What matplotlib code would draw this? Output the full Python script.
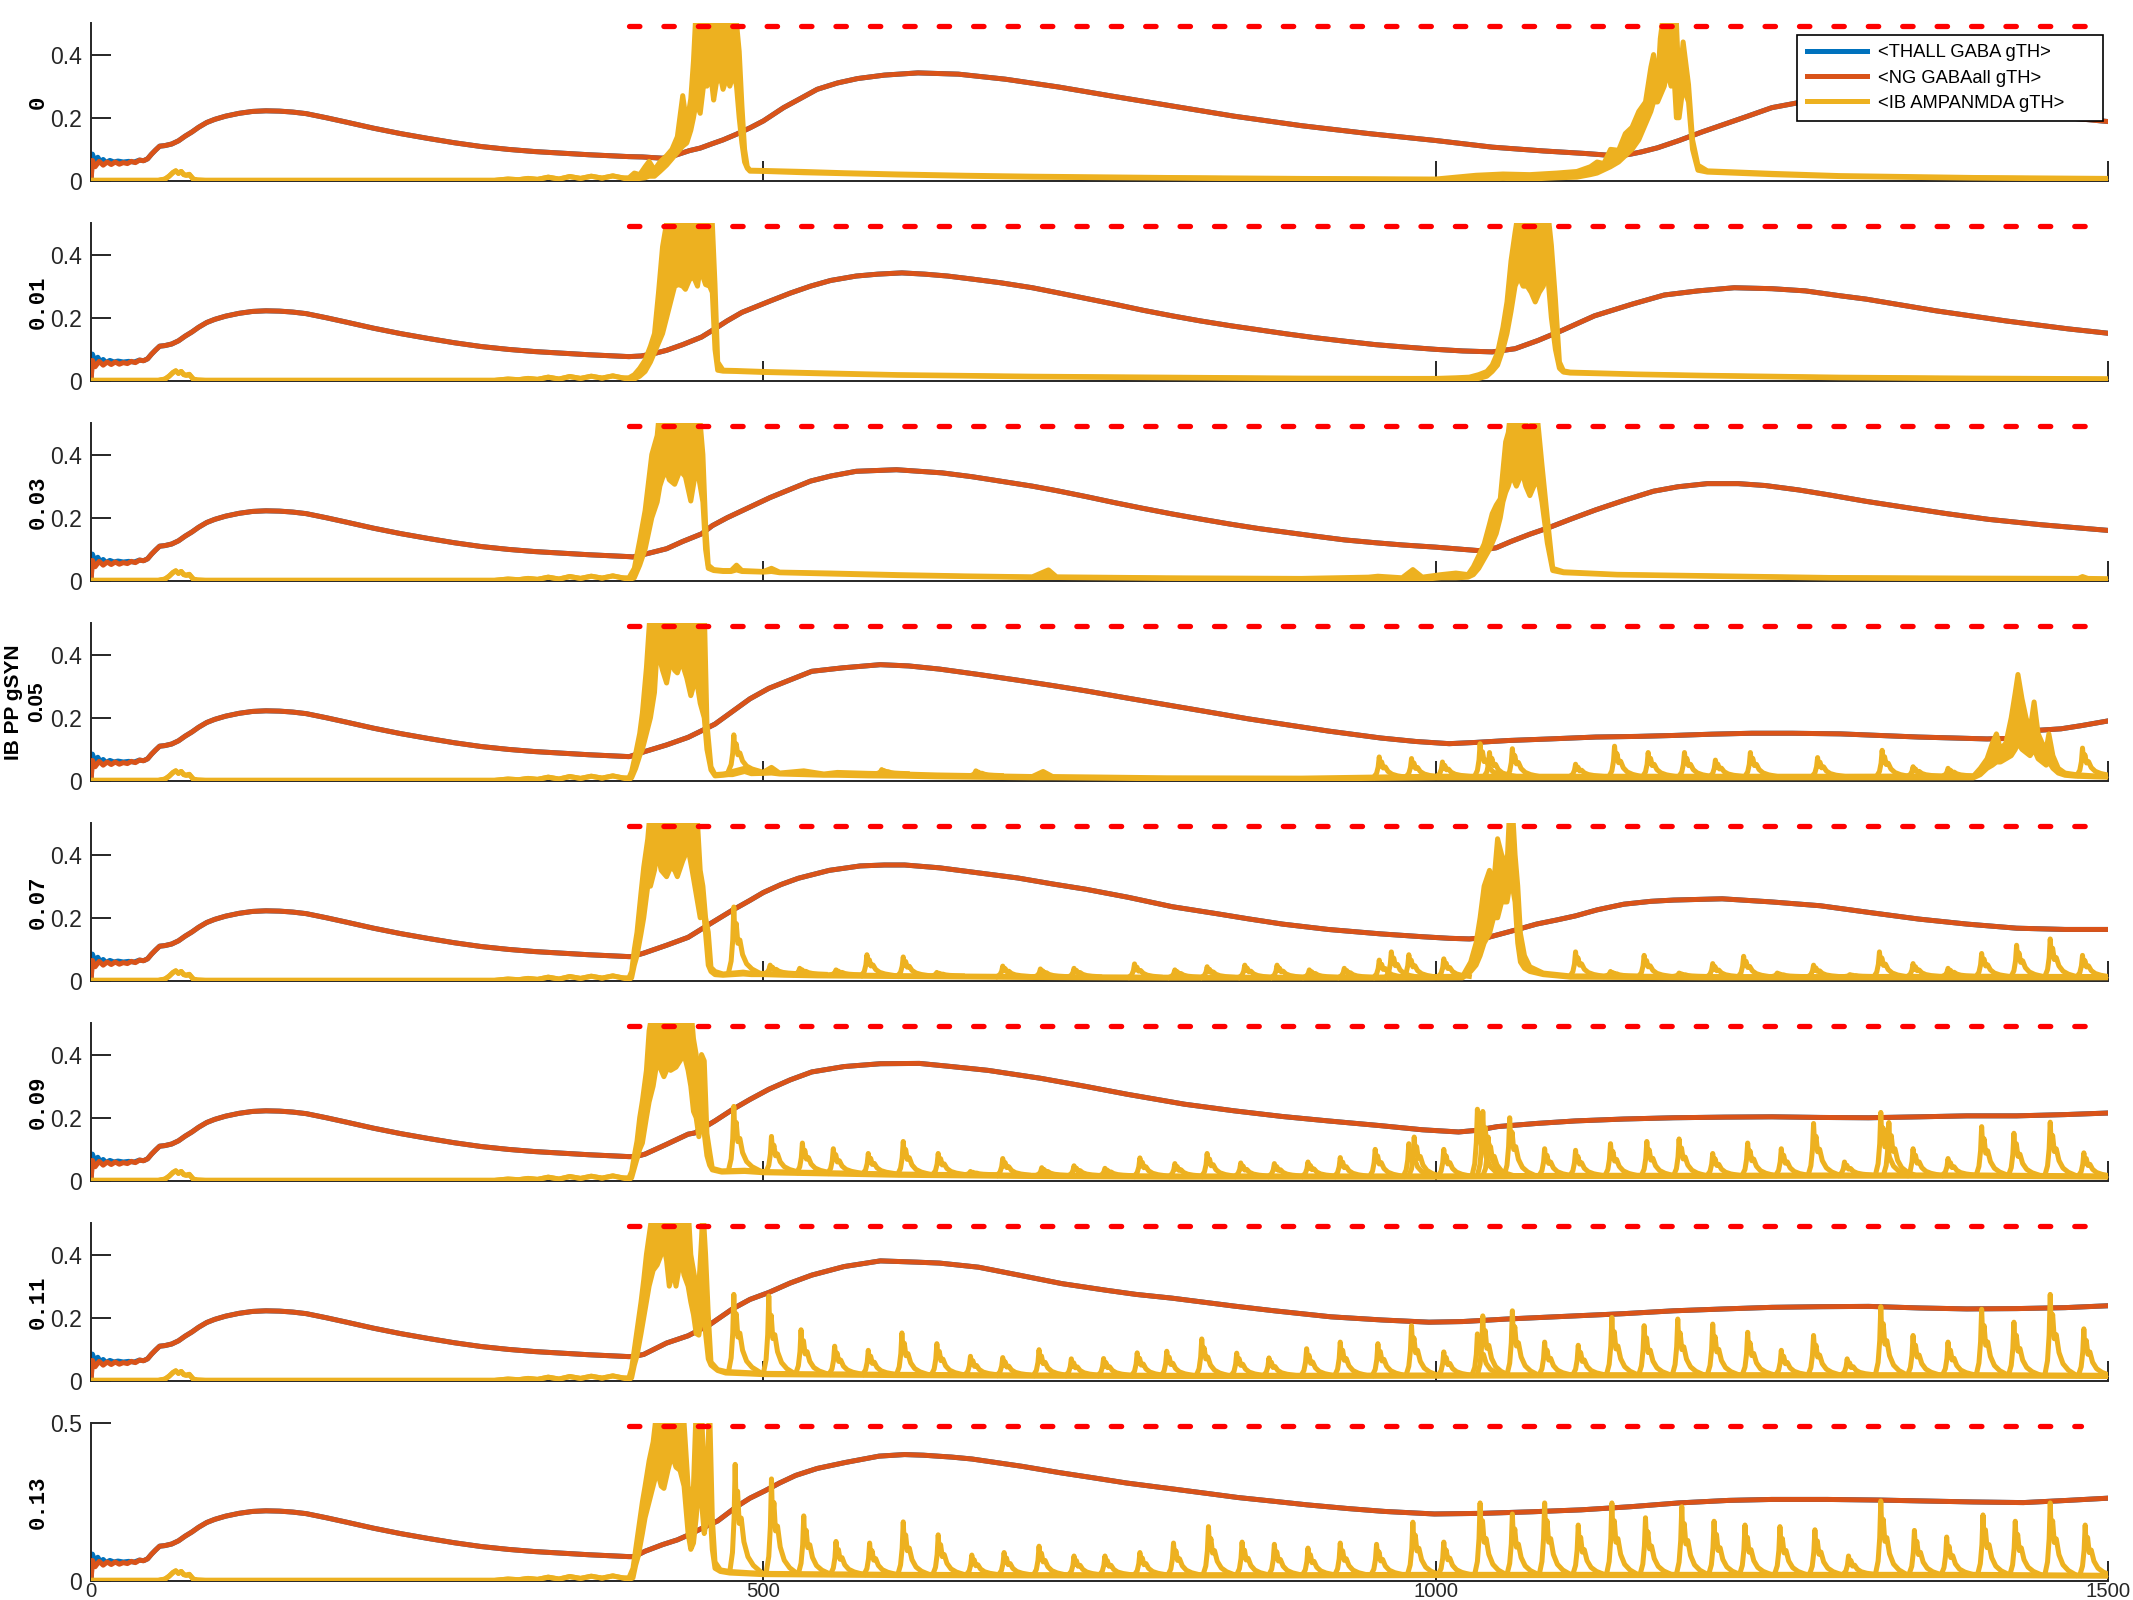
import numpy as np
import matplotlib
matplotlib.use("Agg")
import matplotlib.pyplot as plt

# ---------------- data ----------------
panel_labels = ["0", "0.01", "0.03", "0.05", "0.07", "0.09", "0.11", "0.13"]
series_names = ["<THALL GABA gTH>", "<NG GABAall gTH>", "<IB AMPANMDA gTH>"]
x_ticks = [0, 500, 1000, 1500]
threshold_level = 0.49
threshold_start = 400
threshold_end = [1500, 1500, 1500, 1500, 1500, 1500, 1500, 1480]

# shared first 400 ms (identical in all panels)
orange_early = [(0, 0.0), (1, 0.065), (3, 0.045), (6, 0.062), (9, 0.05), (12, 0.06), (15, 0.052),
                (18, 0.06), (21, 0.053), (24, 0.058), (27, 0.055), (30, 0.062), (33, 0.058),
                (36, 0.066), (39, 0.064), (42, 0.07), (45, 0.085), (48, 0.098), (51, 0.11),
                (55, 0.112), (60, 0.117), (65, 0.127), (70, 0.142), (75, 0.155), (80, 0.17),
                (86, 0.185), (92, 0.195), (100, 0.205), (110, 0.214), (120, 0.22), (130, 0.222),
                (140, 0.221), (150, 0.218), (160, 0.213), (175, 0.2), (190, 0.186), (210, 0.167),
                (230, 0.15), (250, 0.135), (270, 0.121), (290, 0.109), (310, 0.1), (330, 0.093),
                (350, 0.088), (370, 0.083), (390, 0.079), (400, 0.077)]
blue_early = [(0, 0.0), (1, 0.085), (3, 0.06), (5, 0.075), (7, 0.06), (9, 0.068), (11, 0.058),
              (14, 0.065), (17, 0.06), (20, 0.063), (24, 0.06), (28, 0.062), (32, 0.06),
              (36, 0.066), (39, 0.064)]
yellow_early = [(0, 0.002), (50, 0.002), (55, 0.006), (58, 0.015), (61, 0.027), (63, 0.032),
                (65, 0.024), (67, 0.03), (69, 0.02), (71, 0.018), (73, 0.021), (76, 0.006),
                (79, 0.003), (85, 0.002), (300, 0.002), (310, 0.006), (318, 0.004), (325, 0.008),
                (332, 0.005), (340, 0.012), (348, 0.006), (356, 0.014), (364, 0.008), (372, 0.015),
                (380, 0.009), (388, 0.016), (395, 0.01)]

# NG GABAall (orange) after 400 ms, per panel
orange_p1 = [(410, 0.076), (425, 0.072), (435, 0.082), (445, 0.096), (453, 0.104), (462, 0.118),
             (470, 0.13), (480, 0.148), (490, 0.168), (500, 0.19), (515, 0.232), (528, 0.262),
             (540, 0.29), (555, 0.31), (570, 0.324), (590, 0.335), (615, 0.342), (645, 0.338),
             (680, 0.322), (720, 0.297), (760, 0.268), (800, 0.24), (850, 0.205), (900, 0.175),
             (950, 0.15), (1000, 0.128), (1042, 0.107), (1080, 0.095), (1111, 0.087), (1136, 0.079),
             (1145, 0.085), (1153, 0.092), (1165, 0.105), (1181, 0.128), (1198, 0.155), (1215, 0.18),
             (1232, 0.205), (1250, 0.232), (1270, 0.248), (1300, 0.258), (1330, 0.262), (1360, 0.255),
             (1400, 0.238), (1440, 0.215), (1470, 0.2), (1500, 0.188)]
orange_p2 = [(409, 0.079), (418, 0.086), (428, 0.097), (440, 0.115), (454, 0.139), (462, 0.16),
             (473, 0.19), (484, 0.217), (505, 0.253), (520, 0.278), (535, 0.3), (550, 0.318),
             (569, 0.332), (585, 0.338), (603, 0.342), (620, 0.338), (637, 0.332), (656, 0.322),
             (676, 0.311), (700, 0.295), (719, 0.279), (740, 0.261), (761, 0.243), (782, 0.224),
             (804, 0.206), (825, 0.19), (847, 0.175), (868, 0.162), (889, 0.149), (910, 0.137),
             (932, 0.126), (955, 0.115), (975, 0.108), (1000, 0.1), (1020, 0.095), (1042, 0.092),
             (1059, 0.102), (1076, 0.128), (1094, 0.16), (1118, 0.206), (1146, 0.243), (1170, 0.272),
             (1195, 0.285), (1222, 0.295), (1250, 0.292), (1275, 0.285), (1300, 0.27), (1320, 0.259),
             (1372, 0.222), (1424, 0.19), (1470, 0.165), (1500, 0.151)]
orange_p3 = [(403, 0.076), (415, 0.088), (428, 0.102), (440, 0.125), (454, 0.149), (462, 0.175),
             (473, 0.2), (484, 0.222), (505, 0.264), (520, 0.29), (535, 0.316), (550, 0.332),
             (569, 0.347), (599, 0.352), (633, 0.342), (655, 0.33), (676, 0.316), (700, 0.3),
             (719, 0.285), (740, 0.267), (761, 0.248), (782, 0.23), (804, 0.212), (825, 0.196),
             (847, 0.18), (868, 0.166), (889, 0.154), (910, 0.142), (932, 0.13), (955, 0.121),
             (975, 0.114), (1000, 0.107), (1020, 0.1), (1032, 0.096), (1045, 0.105), (1056, 0.125),
             (1070, 0.148), (1083, 0.167), (1100, 0.195), (1119, 0.225), (1140, 0.255), (1162, 0.284),
             (1180, 0.298), (1202, 0.308), (1225, 0.308), (1245, 0.302), (1270, 0.288), (1293, 0.272),
             (1320, 0.252), (1352, 0.231), (1380, 0.213), (1411, 0.195), (1450, 0.178), (1500, 0.16)]
orange_p4 = [(401, 0.078), (411, 0.092), (428, 0.114), (444, 0.138), (457, 0.165), (464, 0.18),
             (477, 0.22), (490, 0.26), (504, 0.293), (520, 0.32), (536, 0.347), (559, 0.358),
             (587, 0.368), (608, 0.364), (631, 0.354), (660, 0.337), (689, 0.319), (715, 0.302),
             (740, 0.285), (771, 0.262), (804, 0.238), (837, 0.214), (860, 0.197), (886, 0.18),
             (920, 0.158), (959, 0.136), (985, 0.125), (1010, 0.118), (1030, 0.122), (1054, 0.128),
             (1085, 0.133), (1119, 0.139), (1150, 0.141), (1177, 0.144), (1205, 0.148), (1235, 0.151),
             (1265, 0.151), (1301, 0.149), (1330, 0.144), (1359, 0.139), (1385, 0.136), (1410, 0.133),
             (1430, 0.135), (1447, 0.16), (1465, 0.165), (1480, 0.175), (1500, 0.19)]
orange_p5 = [(402, 0.077), (411, 0.088), (428, 0.113), (444, 0.138), (460, 0.18), (477, 0.224),
             (490, 0.255), (500, 0.28), (513, 0.305), (526, 0.325), (549, 0.35), (572, 0.364),
             (590, 0.367), (605, 0.367), (631, 0.358), (660, 0.342), (689, 0.326), (715, 0.307),
             (740, 0.29), (771, 0.265), (804, 0.235), (837, 0.213), (860, 0.197), (886, 0.18),
             (920, 0.163), (959, 0.149), (990, 0.14), (1010, 0.135), (1025, 0.133), (1039, 0.138),
             (1060, 0.162), (1075, 0.18), (1090, 0.193), (1104, 0.206), (1120, 0.225), (1140, 0.243),
             (1160, 0.252), (1177, 0.256), (1213, 0.26), (1250, 0.25), (1286, 0.238), (1322, 0.217),
             (1359, 0.196), (1395, 0.18), (1432, 0.167), (1468, 0.163), (1500, 0.163)]
orange_p6 = [(405, 0.077), (412, 0.085), (428, 0.116), (444, 0.148), (449, 0.152), (464, 0.19),
             (477, 0.226), (490, 0.258), (504, 0.29), (520, 0.32), (536, 0.345), (560, 0.362),
             (587, 0.371), (616, 0.372), (640, 0.362), (667, 0.35), (706, 0.325), (740, 0.299),
             (771, 0.274), (813, 0.243), (850, 0.222), (886, 0.204), (920, 0.19), (959, 0.175),
             (990, 0.162), (1017, 0.155), (1030, 0.16), (1046, 0.172), (1075, 0.182), (1104, 0.19),
             (1140, 0.196), (1177, 0.2), (1215, 0.202), (1250, 0.203), (1286, 0.201), (1322, 0.2),
             (1360, 0.203), (1395, 0.206), (1432, 0.206), (1468, 0.21), (1500, 0.215)]
orange_p7 = [(404, 0.078), (411, 0.084), (428, 0.12), (444, 0.143), (460, 0.178), (477, 0.228),
             (490, 0.258), (504, 0.28), (520, 0.31), (536, 0.335), (560, 0.362), (587, 0.38),
             (614, 0.376), (631, 0.373), (660, 0.36), (690, 0.335), (722, 0.308), (755, 0.287),
             (777, 0.274), (804, 0.262), (850, 0.237), (880, 0.222), (922, 0.203), (960, 0.193),
             (995, 0.186), (1020, 0.188), (1053, 0.196), (1104, 0.206), (1140, 0.213), (1177, 0.222),
             (1215, 0.228), (1250, 0.233), (1286, 0.235), (1322, 0.236), (1360, 0.231), (1395, 0.228),
             (1432, 0.229), (1468, 0.232), (1500, 0.238)]
orange_p8 = [(404, 0.077), (412, 0.094), (425, 0.115), (436, 0.13), (444, 0.145), (455, 0.168),
             (466, 0.19), (480, 0.235), (490, 0.262), (501, 0.285), (512, 0.31), (524, 0.334),
             (540, 0.356), (561, 0.375), (586, 0.395), (605, 0.4), (619, 0.398), (640, 0.392),
             (655, 0.386), (692, 0.363), (720, 0.343), (743, 0.328), (770, 0.31), (801, 0.293),
             (830, 0.277), (853, 0.264), (880, 0.252), (904, 0.241), (935, 0.229), (962, 0.22),
             (999, 0.212), (1035, 0.214), (1072, 0.219), (1108, 0.225), (1145, 0.235), (1181, 0.247),
             (1218, 0.255), (1250, 0.258), (1291, 0.258), (1330, 0.256), (1364, 0.253), (1400, 0.25),
             (1437, 0.248), (1470, 0.255), (1500, 0.262)]

# IB AMPANMDA (yellow) after 400 ms: (time, lower edge, upper edge) of the trace band
yellow_p1 = [(400, 0.003, 0.01), (404, 0.005, 0.025), (408, 0.008, 0.02), (412, 0.01, 0.045),
             (415, 0.015, 0.062), (419, 0.015, 0.035), (423, 0.03, 0.06), (428, 0.05, 0.08),
             (432, 0.07, 0.1), (436, 0.09, 0.14), (440, 0.11, 0.27), (443, 0.12, 0.18),
             (446, 0.16, 0.26), (448, 0.2, 0.38), (450, 0.25, 0.55), (453, 0.214, 0.55),
             (456, 0.32, 0.55), (458, 0.3, 0.55), (461, 0.33, 0.55), (463, 0.256, 0.55),
             (465, 0.31, 0.55), (468, 0.33, 0.55), (470, 0.29, 0.55), (473, 0.33, 0.55),
             (475, 0.3, 0.55), (478, 0.34, 0.55), (480, 0.3, 0.5), (482, 0.2, 0.41),
             (484, 0.12, 0.24), (486, 0.06, 0.1), (488, 0.04, 0.045), (490, 0.031, 0.034),
             (502, 0.03, 0.033), (530, 0.026, 0.03), (560, 0.023, 0.026), (600, 0.019, 0.022),
             (650, 0.015, 0.018), (700, 0.012, 0.015), (800, 0.009, 0.011), (900, 0.006, 0.008),
             (1000, 0.004, 0.006), (1015, 0.004, 0.012), (1030, 0.006, 0.018), (1050, 0.008, 0.022),
             (1070, 0.006, 0.02), (1090, 0.01, 0.025), (1105, 0.012, 0.03), (1115, 0.02, 0.045),
             (1120, 0.025, 0.06), (1125, 0.035, 0.055), (1130, 0.045, 0.1), (1136, 0.06, 0.097),
             (1141, 0.08, 0.15), (1146, 0.1, 0.17), (1151, 0.13, 0.22), (1156, 0.18, 0.25),
             (1160, 0.22, 0.36), (1162, 0.25, 0.4), (1165, 0.25, 0.3), (1167, 0.27, 0.45),
             (1170, 0.3, 0.55), (1172, 0.35, 0.55), (1175, 0.3, 0.55), (1177, 0.35, 0.46),
             (1179, 0.2, 0.5), (1181, 0.2, 0.3), (1184, 0.3, 0.44), (1188, 0.25, 0.305),
             (1191, 0.1, 0.13), (1195, 0.034, 0.05), (1202, 0.028, 0.032), (1250, 0.02, 0.024),
             (1300, 0.014, 0.017), (1400, 0.009, 0.011), (1500, 0.006, 0.008)]
yellow_p2 = [(400, 0.004, 0.01), (404, 0.006, 0.02), (408, 0.015, 0.04), (412, 0.03, 0.066),
             (416, 0.06, 0.11), (419, 0.09, 0.15), (422, 0.12, 0.28), (425, 0.15, 0.425),
             (428, 0.2, 0.5), (431, 0.25, 0.55), (434, 0.3, 0.55), (437, 0.305, 0.55),
             (440, 0.3, 0.55), (442, 0.29, 0.55), (445, 0.32, 0.55), (448, 0.33, 0.55),
             (451, 0.3, 0.55), (453, 0.358, 0.55), (455, 0.33, 0.55), (457, 0.305, 0.55),
             (460, 0.3, 0.55), (462, 0.28, 0.5), (464, 0.1, 0.305), (466, 0.034, 0.06),
             (470, 0.031, 0.034), (480, 0.03, 0.033), (500, 0.027, 0.03), (550, 0.022, 0.025),
             (600, 0.018, 0.02), (700, 0.013, 0.015), (800, 0.01, 0.012), (900, 0.007, 0.009),
             (980, 0.004, 0.008), (1000, 0.003, 0.008), (1015, 0.003, 0.01), (1025, 0.003, 0.012),
             (1032, 0.008, 0.02), (1038, 0.015, 0.03), (1042, 0.03, 0.05), (1046, 0.05, 0.09),
             (1050, 0.1, 0.17), (1053, 0.15, 0.25), (1056, 0.22, 0.38), (1059, 0.3, 0.47),
             (1062, 0.33, 0.55), (1065, 0.3, 0.55), (1068, 0.3, 0.55), (1071, 0.28, 0.46),
             (1074, 0.25, 0.55), (1077, 0.28, 0.5), (1080, 0.3, 0.55), (1083, 0.35, 0.55),
             (1086, 0.2, 0.43), (1089, 0.1, 0.26), (1092, 0.04, 0.06), (1095, 0.028, 0.032),
             (1100, 0.025, 0.028), (1150, 0.02, 0.022), (1200, 0.016, 0.018), (1300, 0.01, 0.012),
             (1400, 0.007, 0.009), (1500, 0.005, 0.007)]
yellow_p3 = [(400, 0.004, 0.01), (404, 0.01, 0.04), (408, 0.05, 0.128), (412, 0.1, 0.222),
             (417, 0.2, 0.4), (421, 0.25, 0.46), (423, 0.3, 0.55), (425, 0.326, 0.55),
             (428, 0.35, 0.55), (430, 0.32, 0.55), (434, 0.306, 0.55), (438, 0.35, 0.55),
             (442, 0.33, 0.55), (446, 0.253, 0.55), (449, 0.33, 0.55), (451, 0.35, 0.55),
             (453, 0.3, 0.5), (455, 0.25, 0.4), (457, 0.1, 0.18), (459, 0.04, 0.05),
             (463, 0.033, 0.036), (470, 0.03, 0.033), (476, 0.03, 0.033), (480, 0.035, 0.05),
             (484, 0.03, 0.033), (500, 0.028, 0.03), (506, 0.03, 0.04), (512, 0.026, 0.028),
             (550, 0.022, 0.025), (600, 0.017, 0.02), (650, 0.014, 0.016), (700, 0.011, 0.013),
             (712, 0.011, 0.035), (718, 0.011, 0.013), (800, 0.008, 0.01), (900, 0.006, 0.008),
             (950, 0.004, 0.012), (957, 0.004, 0.015), (975, 0.004, 0.01), (983, 0.005, 0.036),
             (990, 0.005, 0.012), (1004, 0.01, 0.02), (1015, 0.01, 0.025), (1024, 0.012, 0.02),
             (1028, 0.02, 0.045), (1032, 0.04, 0.08), (1036, 0.07, 0.117), (1040, 0.1, 0.18),
             (1042, 0.12, 0.213), (1045, 0.15, 0.24), (1048, 0.2, 0.26), (1050, 0.25, 0.35),
             (1052, 0.28, 0.44), (1054, 0.3, 0.47), (1056, 0.33, 0.55), (1058, 0.32, 0.55),
             (1060, 0.3, 0.5), (1062, 0.32, 0.55), (1064, 0.35, 0.55), (1067, 0.3, 0.5),
             (1070, 0.27, 0.45), (1073, 0.3, 0.55), (1076, 0.32, 0.5), (1079, 0.25, 0.368),
             (1083, 0.12, 0.2), (1087, 0.033, 0.04), (1095, 0.026, 0.029), (1135, 0.019, 0.021),
             (1214, 0.014, 0.016), (1293, 0.009, 0.011), (1400, 0.007, 0.009), (1478, 0.006, 0.008),
             (1481, 0.006, 0.014), (1485, 0.006, 0.008), (1500, 0.005, 0.007)]
yellow_p4 = [(400, 0.004, 0.01), (402, 0.01, 0.03), (405, 0.04, 0.087), (408, 0.08, 0.15),
             (410, 0.1, 0.215), (413, 0.15, 0.358), (416, 0.2, 0.55), (419, 0.28, 0.55),
             (421, 0.42, 0.55), (425, 0.35, 0.55), (428, 0.31, 0.55), (431, 0.38, 0.55),
             (434, 0.35, 0.55), (436, 0.342, 0.55), (439, 0.38, 0.55), (443, 0.326, 0.55),
             (446, 0.27, 0.55), (448, 0.3, 0.55), (451, 0.3, 0.55), (453, 0.246, 0.5),
             (456, 0.2, 0.55), (458, 0.1, 0.183), (461, 0.035, 0.045), (464, 0.016, 0.02),
             (470, 0.018, 0.022), (474, 0.02, 0.025), (477, 0.02, 0.03), (486, 0.03, 0.04),
             (491, 0.023, 0.026), (500, 0.024, 0.028), (506, 0.025, 0.043), (512, 0.022, 0.025),
             (530, 0.02, 0.032), (545, 0.018, 0.022), (555, 0.018, 0.027), (578, 0.016, 0.024),
             (604, 0.015, 0.022), (629, 0.013, 0.019), (700, 0.01, 0.014), (708, 0.01, 0.03),
             (715, 0.01, 0.014), (800, 0.007, 0.01), (900, 0.006, 0.009), (950, 0.008, 0.012),
             (1000, 0.01, 0.015), (1150, 0.01, 0.015), (1300, 0.01, 0.015), (1400, 0.01, 0.016),
             (1405, 0.02, 0.04), (1410, 0.04, 0.07), (1414, 0.05, 0.12), (1417, 0.06, 0.149),
             (1420, 0.06, 0.1), (1424, 0.07, 0.12), (1428, 0.08, 0.2), (1431, 0.1, 0.28),
             (1433, 0.12, 0.337), (1436, 0.1, 0.26), (1439, 0.09, 0.2), (1442, 0.08, 0.16),
             (1445, 0.1, 0.25), (1448, 0.07, 0.15), (1451, 0.06, 0.12), (1454, 0.05, 0.1),
             (1456, 0.06, 0.149), (1459, 0.04, 0.08), (1463, 0.025, 0.04), (1468, 0.018, 0.025),
             (1476, 0.015, 0.02), (1490, 0.013, 0.016), (1500, 0.012, 0.015)]
yellow_p5 = [(400, 0.004, 0.01), (402, 0.01, 0.03), (404, 0.05, 0.1), (406, 0.08, 0.154),
             (409, 0.15, 0.28), (411, 0.2, 0.36), (414, 0.3, 0.45), (416, 0.3, 0.55),
             (419, 0.35, 0.55), (421, 0.41, 0.55), (424, 0.35, 0.55), (428, 0.33, 0.55),
             (431, 0.36, 0.55), (434, 0.35, 0.55), (436, 0.33, 0.55), (440, 0.38, 0.55),
             (444, 0.42, 0.55), (447, 0.35, 0.55), (449, 0.3, 0.55), (451, 0.25, 0.5),
             (453, 0.2, 0.35), (455, 0.25, 0.3), (457, 0.15, 0.2), (459, 0.05, 0.154),
             (461, 0.03, 0.043), (464, 0.02, 0.03), (470, 0.018, 0.022), (485, 0.022, 0.028),
             (491, 0.02, 0.024), (500, 0.02, 0.024), (516, 0.018, 0.022), (540, 0.016, 0.02),
             (600, 0.014, 0.017), (700, 0.011, 0.014), (800, 0.009, 0.012), (900, 0.009, 0.012),
             (950, 0.009, 0.012), (1020, 0.01, 0.015), (1026, 0.03, 0.06), (1030, 0.05, 0.12),
             (1033, 0.08, 0.2), (1036, 0.12, 0.3), (1040, 0.15, 0.35), (1043, 0.2, 0.3),
             (1046, 0.2, 0.45), (1049, 0.25, 0.4), (1053, 0.25, 0.36), (1055, 0.3, 0.55),
             (1057, 0.3, 0.55), (1059, 0.25, 0.4), (1061, 0.12, 0.3), (1063, 0.06, 0.15),
             (1066, 0.04, 0.08), (1070, 0.03, 0.045), (1080, 0.02, 0.025), (1100, 0.012, 0.016),
             (1200, 0.01, 0.014), (1300, 0.01, 0.014), (1400, 0.01, 0.015), (1500, 0.01, 0.014)]
yellow_p6 = [(400, 0.004, 0.01), (402, 0.01, 0.03), (404, 0.04, 0.08), (406, 0.07, 0.126),
             (408, 0.1, 0.2), (410, 0.12, 0.253), (413, 0.2, 0.35), (415, 0.25, 0.475),
             (418, 0.3, 0.55), (421, 0.38, 0.55), (424, 0.35, 0.55), (426, 0.33, 0.55),
             (429, 0.36, 0.55), (431, 0.35, 0.55), (435, 0.36, 0.55), (438, 0.38, 0.55),
             (441, 0.4, 0.55), (444, 0.35, 0.55), (446, 0.3, 0.55), (448, 0.22, 0.45),
             (450, 0.2, 0.4), (452, 0.14, 0.3), (454, 0.2, 0.4), (456, 0.15, 0.38),
             (458, 0.08, 0.15), (460, 0.05, 0.094), (462, 0.035, 0.04), (469, 0.028, 0.032),
             (486, 0.03, 0.034), (500, 0.026, 0.03), (600, 0.018, 0.022), (700, 0.014, 0.018),
             (800, 0.012, 0.016), (900, 0.012, 0.016), (1000, 0.012, 0.016), (1100, 0.014, 0.018),
             (1200, 0.014, 0.018), (1300, 0.015, 0.019), (1400, 0.015, 0.019), (1500, 0.012, 0.016)]
yellow_p7 = [(400, 0.004, 0.01), (402, 0.01, 0.04), (404, 0.05, 0.1), (406, 0.08, 0.16),
             (409, 0.15, 0.25), (411, 0.2, 0.32), (413, 0.25, 0.4), (415, 0.3, 0.46),
             (418, 0.35, 0.55), (421, 0.367, 0.55), (424, 0.4, 0.55), (426, 0.43, 0.55),
             (428, 0.38, 0.55), (430, 0.3, 0.5), (433, 0.35, 0.55), (435, 0.3, 0.45),
             (437, 0.35, 0.55), (439, 0.38, 0.55), (441, 0.335, 0.5), (444, 0.3, 0.55),
             (446, 0.25, 0.4), (448, 0.21, 0.35), (450, 0.15, 0.3), (452, 0.145, 0.3),
             (454, 0.2, 0.45), (455, 0.3, 0.55), (457, 0.15, 0.4), (459, 0.07, 0.21),
             (461, 0.05, 0.06), (466, 0.033, 0.036), (472, 0.025, 0.03), (490, 0.022, 0.026),
             (500, 0.02, 0.024), (600, 0.017, 0.021), (700, 0.015, 0.019), (800, 0.014, 0.018),
             (900, 0.014, 0.018), (1000, 0.015, 0.019), (1100, 0.016, 0.02), (1200, 0.016, 0.02),
             (1300, 0.016, 0.02), (1400, 0.016, 0.02), (1500, 0.014, 0.018)]
yellow_p8 = [(400, 0.004, 0.01), (403, 0.01, 0.04), (405, 0.05, 0.1), (407, 0.08, 0.16),
             (410, 0.15, 0.25), (412, 0.2, 0.3), (415, 0.25, 0.38), (418, 0.3, 0.44),
             (421, 0.35, 0.55), (424, 0.3, 0.55), (426, 0.293, 0.5), (429, 0.35, 0.55),
             (432, 0.4, 0.55), (435, 0.36, 0.55), (438, 0.35, 0.55), (441, 0.3, 0.5),
             (444, 0.15, 0.3), (446, 0.1, 0.25), (448, 0.12, 0.3), (450, 0.2, 0.55),
             (452, 0.3, 0.55), (454, 0.25, 0.55), (456, 0.15, 0.3), (458, 0.2, 0.35),
             (460, 0.25, 0.55), (462, 0.1, 0.2), (464, 0.04, 0.06), (468, 0.03, 0.035),
             (475, 0.025, 0.03), (490, 0.022, 0.026), (500, 0.02, 0.024), (600, 0.017, 0.021),
             (700, 0.016, 0.02), (800, 0.016, 0.02), (900, 0.016, 0.02), (1000, 0.017, 0.021),
             (1100, 0.017, 0.021), (1200, 0.017, 0.021), (1300, 0.017, 0.021), (1400, 0.017, 0.021),
             (1500, 0.015, 0.018)]

# isolated IB AMPANMDA peaks: (time, peak value)
spikes_p1 = []
spikes_p2 = []
spikes_p3 = []
spikes_p4 = [(478, 0.146), (588, 0.036), (658, 0.032), (958, 0.076), (982, 0.071), (1005, 0.06),
             (1033, 0.118), (1040, 0.09), (1057, 0.102), (1104, 0.053), (1133, 0.11), (1158, 0.09),
             (1185, 0.09), (1208, 0.066), (1234, 0.09), (1284, 0.074), (1332, 0.097), (1355, 0.045),
             (1381, 0.04), (1481, 0.104)]
spikes_p5 = [(478, 0.234), (505, 0.05), (527, 0.04), (554, 0.035), (577, 0.083), (604, 0.076),
             (629, 0.027), (678, 0.047), (706, 0.038), (731, 0.04), (776, 0.054), (806, 0.035),
             (830, 0.045), (858, 0.05), (882, 0.05), (906, 0.035), (932, 0.04), (958, 0.066),
             (967, 0.092), (980, 0.083), (1006, 0.07), (1104, 0.092), (1130, 0.03), (1155, 0.081),
             (1181, 0.025), (1206, 0.055), (1229, 0.078), (1254, 0.025), (1281, 0.05), (1308, 0.02),
             (1330, 0.092), (1355, 0.055), (1381, 0.04), (1406, 0.087), (1432, 0.113), (1457, 0.133),
             (1481, 0.081)]
spikes_p6 = [(478, 0.236), (506, 0.141), (529, 0.12), (552, 0.102), (578, 0.087), (604, 0.125),
             (630, 0.087), (654, 0.03), (678, 0.071), (707, 0.042), (731, 0.048), (754, 0.04),
             (780, 0.073), (806, 0.055), (830, 0.087), (855, 0.057), (880, 0.055), (905, 0.06),
             (929, 0.074), (955, 0.1), (980, 0.118), (984, 0.139), (1006, 0.1), (1031, 0.227),
             (1035, 0.22), (1039, 0.139), (1055, 0.2), (1081, 0.102), (1104, 0.097), (1130, 0.118),
             (1157, 0.125), (1181, 0.133), (1206, 0.087), (1232, 0.12), (1257, 0.102), (1281, 0.182),
             (1304, 0.06), (1331, 0.217), (1337, 0.185), (1355, 0.102), (1381, 0.071), (1406, 0.172),
             (1430, 0.151), (1457, 0.186), (1482, 0.089)]
spikes_p7 = [(478, 0.274), (504, 0.269), (528, 0.162), (553, 0.11), (578, 0.097), (603, 0.152),
             (629, 0.118), (654, 0.078), (678, 0.074), (705, 0.099), (729, 0.07), (753, 0.071),
             (778, 0.089), (800, 0.094), (826, 0.133), (852, 0.088), (876, 0.073), (904, 0.102),
             (929, 0.123), (957, 0.118), (982, 0.175), (1006, 0.092), (1031, 0.149), (1035, 0.206),
             (1057, 0.222), (1081, 0.123), (1106, 0.113), (1131, 0.201), (1155, 0.175), (1180, 0.196),
             (1206, 0.18), (1232, 0.154), (1257, 0.097), (1281, 0.144), (1306, 0.07), (1331, 0.235),
             (1355, 0.144), (1381, 0.123), (1406, 0.227), (1430, 0.186), (1457, 0.274), (1482, 0.165)]
spikes_p8 = [(479, 0.369), (506, 0.323), (530, 0.206), (554, 0.125), (579, 0.12), (604, 0.187),
             (630, 0.146), (655, 0.082), (679, 0.09), (705, 0.11), (731, 0.079), (754, 0.079),
             (780, 0.09), (805, 0.12), (831, 0.172), (856, 0.123), (880, 0.116), (905, 0.104),
             (929, 0.12), (956, 0.116), (983, 0.186), (1006, 0.123), (1033, 0.247), (1057, 0.212),
             (1081, 0.247), (1106, 0.177), (1131, 0.247), (1156, 0.2), (1183, 0.235), (1207, 0.189),
             (1230, 0.177), (1256, 0.172), (1282, 0.162), (1307, 0.079), (1331, 0.253), (1356, 0.16),
             (1380, 0.139), (1407, 0.209), (1431, 0.189), (1457, 0.247), (1483, 0.177)]

orange_panels = [orange_p1, orange_p2, orange_p3, orange_p4, orange_p5, orange_p6, orange_p7, orange_p8]
yellow_panels = [yellow_p1, yellow_p2, yellow_p3, yellow_p4, yellow_p5, yellow_p6, yellow_p7, yellow_p8]
spike_panels = [spikes_p1, spikes_p2, spikes_p3, spikes_p4, spikes_p5, spikes_p6, spikes_p7, spikes_p8]

# ---------------- style ----------------
C_BLUE, C_ORANGE, C_YELLOW, C_RED = "#0072BD", "#D95319", "#EDB120", "#FF0000"
AX_COL = "#262626"
LW = 1.8
# drawn shape of one peak (offsets in ms, fraction of peak height above the trace)
SPIKE_DX = [-4, -2, -0.8, 0, 0.8, 1.8, 3, 4.5, 6.5, 9.5, 13.5, 19]
SPIKE_FR = [0, 0.18, 0.5, 1.0, 0.55, 0.75, 0.45, 0.5, 0.28, 0.14, 0.06, 0]
TICK_FONT = "Liberation Sans"

fig = plt.figure(figsize=(2133 / 200, 1600 / 200), dpi=200)
left, width, height = 0.0427, 0.9456, 0.09875
bottom0, pitch = 0.8869, 0.125

ex, ey = np.array(orange_early).T
bx, by = np.array(blue_early).T
yex, yey = np.array(yellow_early).T

for i in range(8):
    ax = fig.add_axes([left, bottom0 - i * pitch, width, height])
    px, py = np.array(orange_panels[i]).T
    ox = np.concatenate([ex, px])
    oy = np.concatenate([ey, py])
    keep = ox > bx[-1]
    blx = np.concatenate([bx, ox[keep]])
    bly = np.concatenate([by, oy[keep]])

    yx, ylo, yhi = np.array(yellow_panels[i]).T
    yx = np.concatenate([yex, yx])
    ylo = np.concatenate([yey, ylo])
    yhi = np.concatenate([yey, yhi])

    hb, = ax.plot(blx, bly, color=C_BLUE, lw=LW, solid_joinstyle="round", zorder=2)
    ho, = ax.plot(ox, oy, color=C_ORANGE, lw=LW, solid_joinstyle="round", zorder=3)
    ax.fill_between(yx, ylo, yhi, color=C_YELLOW, lw=0, zorder=4)
    hy, = ax.plot(yx, yhi, color=C_YELLOW, lw=LW, solid_joinstyle="round", zorder=4)
    ax.plot(yx, ylo, color=C_YELLOW, lw=LW, solid_joinstyle="round", zorder=4)
    for (t, h) in spike_panels[i]:
        base = np.interp(t, yx, yhi)
        sx = [t + d for d in SPIKE_DX]
        sy = [base + f * (h - base) for f in SPIKE_FR]
        ax.plot(sx, sy, color=C_YELLOW, lw=LW, solid_joinstyle="round", zorder=4)

    ax.plot([threshold_start, threshold_end[i]], [threshold_level, threshold_level], color=C_RED,
            lw=1.9, dashes=(1.97, 4.55), dash_capstyle="round", zorder=6)

    ax.set_xlim(0, 1500)
    ax.set_ylim(0, 0.5)
    for s in ["top", "right"]:
        ax.spines[s].set_visible(False)
    for s in ["left", "bottom"]:
        ax.spines[s].set_color(AX_COL)
        ax.spines[s].set_linewidth(0.7)
    ax.set_xticks(x_ticks)
    if i == 7:
        ax.set_yticks([0, 0.5])
        ax.set_yticklabels(["0", "0.5"])
        ax.set_xticklabels([str(v) for v in x_ticks])
    else:
        ax.set_yticks([0, 0.2, 0.4])
        ax.set_yticklabels(["0", "0.2", "0.4"])
        ax.set_xticklabels([])
    ax.tick_params(direction="in", length=7.2, width=0.7, colors=AX_COL, labelsize=8.3)
    ax.tick_params(axis="y", pad=3.4)
    ax.tick_params(axis="x", pad=0.2, labelsize=7.3)
    for lab in ax.get_xticklabels() + ax.get_yticklabels():
        lab.set_fontfamily(TICK_FONT)
        lab.set_color(AX_COL)

    if i == 3:
        ax.text(-0.0327, 0.5, "IB PP gSYN\n" + panel_labels[i], transform=ax.transAxes,
                rotation=90, ha="center", va="center", fontsize=7.5, fontweight="bold",
                family="Liberation Sans", linespacing=1.25, color="black")
    else:
        ax.text(-0.0263, 0.5, panel_labels[i], transform=ax.transAxes, rotation=90,
                ha="center", va="center", fontsize=8.0, fontweight="bold",
                family="Liberation Mono", color="black")

    if i == 0:
        leg = ax.legend([hb, ho, hy], series_names, loc="lower left",
                        bbox_to_anchor=(0.846, 0.38, 0.1515, 0.50), mode="expand",
                        prop={"family": ["Liberation Sans Narrow", "Liberation Sans"], "size": 6.6},
                        frameon=True, fancybox=False, framealpha=1, edgecolor="black",
                        handlelength=3.3, handletextpad=0.6, borderpad=0.5, labelspacing=0.45,
                        borderaxespad=0)
        leg.get_frame().set_linewidth(0.6)
        leg.set_zorder(10)

fig.savefig("out.png", dpi=200)
